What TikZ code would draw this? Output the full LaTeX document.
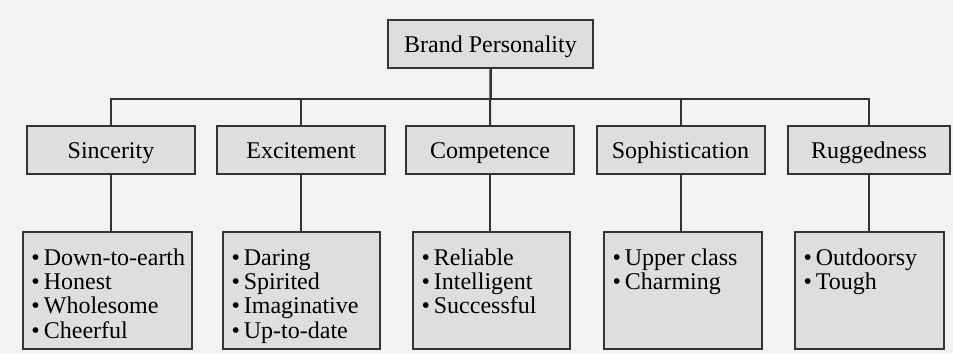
\documentclass[tikz,border=0pt]{standalone}
\usepackage{fontspec}
\setmainfont{Liberation Serif}
\newcommand{\traitlist}[2]{\parbox[c][43.5pt][t]{#1}{\raggedright #2}}
\newcommand{\trait}[1]{\mbox{\rule{0pt}{9pt}\textbullet\,#1}}

\begin{document}
\begin{tikzpicture}[x=0.5pt, y=-0.5pt,
    box/.style={draw=black!80, line width=1pt, fill=black!13, inner sep=0pt,
        minimum height=24pt, text height=10pt, text depth=2pt,
        font=\fontsize{12}{12.2}\selectfont},
    listbox/.style={box, minimum height=58.5pt, text height=, text depth=},
    link/.style={draw=black!80, line width=1pt}]
    \fill[black!5] (0,0) rectangle (953,354);
    \useasboundingbox (0,0) rectangle (953,354);

    \node[box, minimum width=102.5pt] (brand) at (490.5, 44) {Brand Personality};

    \node[box, minimum width=84pt] (sinc) at (111, 150) {Sincerity};
    \node[box, minimum width=84pt] (exci) at (301, 150) {Excitement};
    \node[box, minimum width=84pt] (comp) at (490, 150) {Competence};
    \node[box, minimum width=84pt] (soph) at (680.5, 150) {Sophistication};
    \node[box, minimum width=81pt] (rugg) at (869, 150) {Ruggedness};

    \node[listbox, minimum width=84.5pt] (sincL) at (107.5, 290.5)
        {\traitlist{76pt}{\trait{Down-to-earth}\\ \trait{Honest}\\ \trait{Wholesome}\\ \trait{Cheerful}}};
    \node[listbox, minimum width=78.5pt] (exciL) at (301.5, 290.5)
        {\traitlist{70pt}{\trait{Daring}\\ \trait{Spirited}\\ \trait{Imaginative}\\ \trait{Up-to-date}}};
    \node[listbox, minimum width=78.5pt] (compL) at (491.5, 290.5)
        {\traitlist{70pt}{\trait{Reliable}\\ \trait{Intelligent}\\ \trait{Successful}}};
    \node[listbox, minimum width=79pt] (sophL) at (683, 290.5)
        {\traitlist{70.5pt}{\trait{Upper class}\\ \trait{Charming}}};
    \node[listbox, minimum width=74.5pt] (ruggL) at (869.5, 290.5)
        {\traitlist{66pt}{\trait{Outdoorsy}\\ \trait{Tough}}};

    % tree lines
    \draw[link] (brand.south) -- ++(0,30) -| (sinc.north);
    \draw[link] (brand.south) -- ++(0,30) -| (exci.north);
    \draw[link] (brand.south) -- (comp.north);
    \draw[link] (brand.south) -- ++(0,30) -| (soph.north);
    \draw[link] (brand.south) -- ++(0,30) -| (rugg.north);

    \draw[link] (sinc.south) -- (sinc.south |- sincL.north);
    \draw[link] (exci.south) -- (exci.south |- exciL.north);
    \draw[link] (comp.south) -- (comp.south |- compL.north);
    \draw[link] (soph.south) -- (soph.south |- sophL.north);
    \draw[link] (rugg.south) -- (rugg.south |- ruggL.north);
\end{tikzpicture}
\end{document}
